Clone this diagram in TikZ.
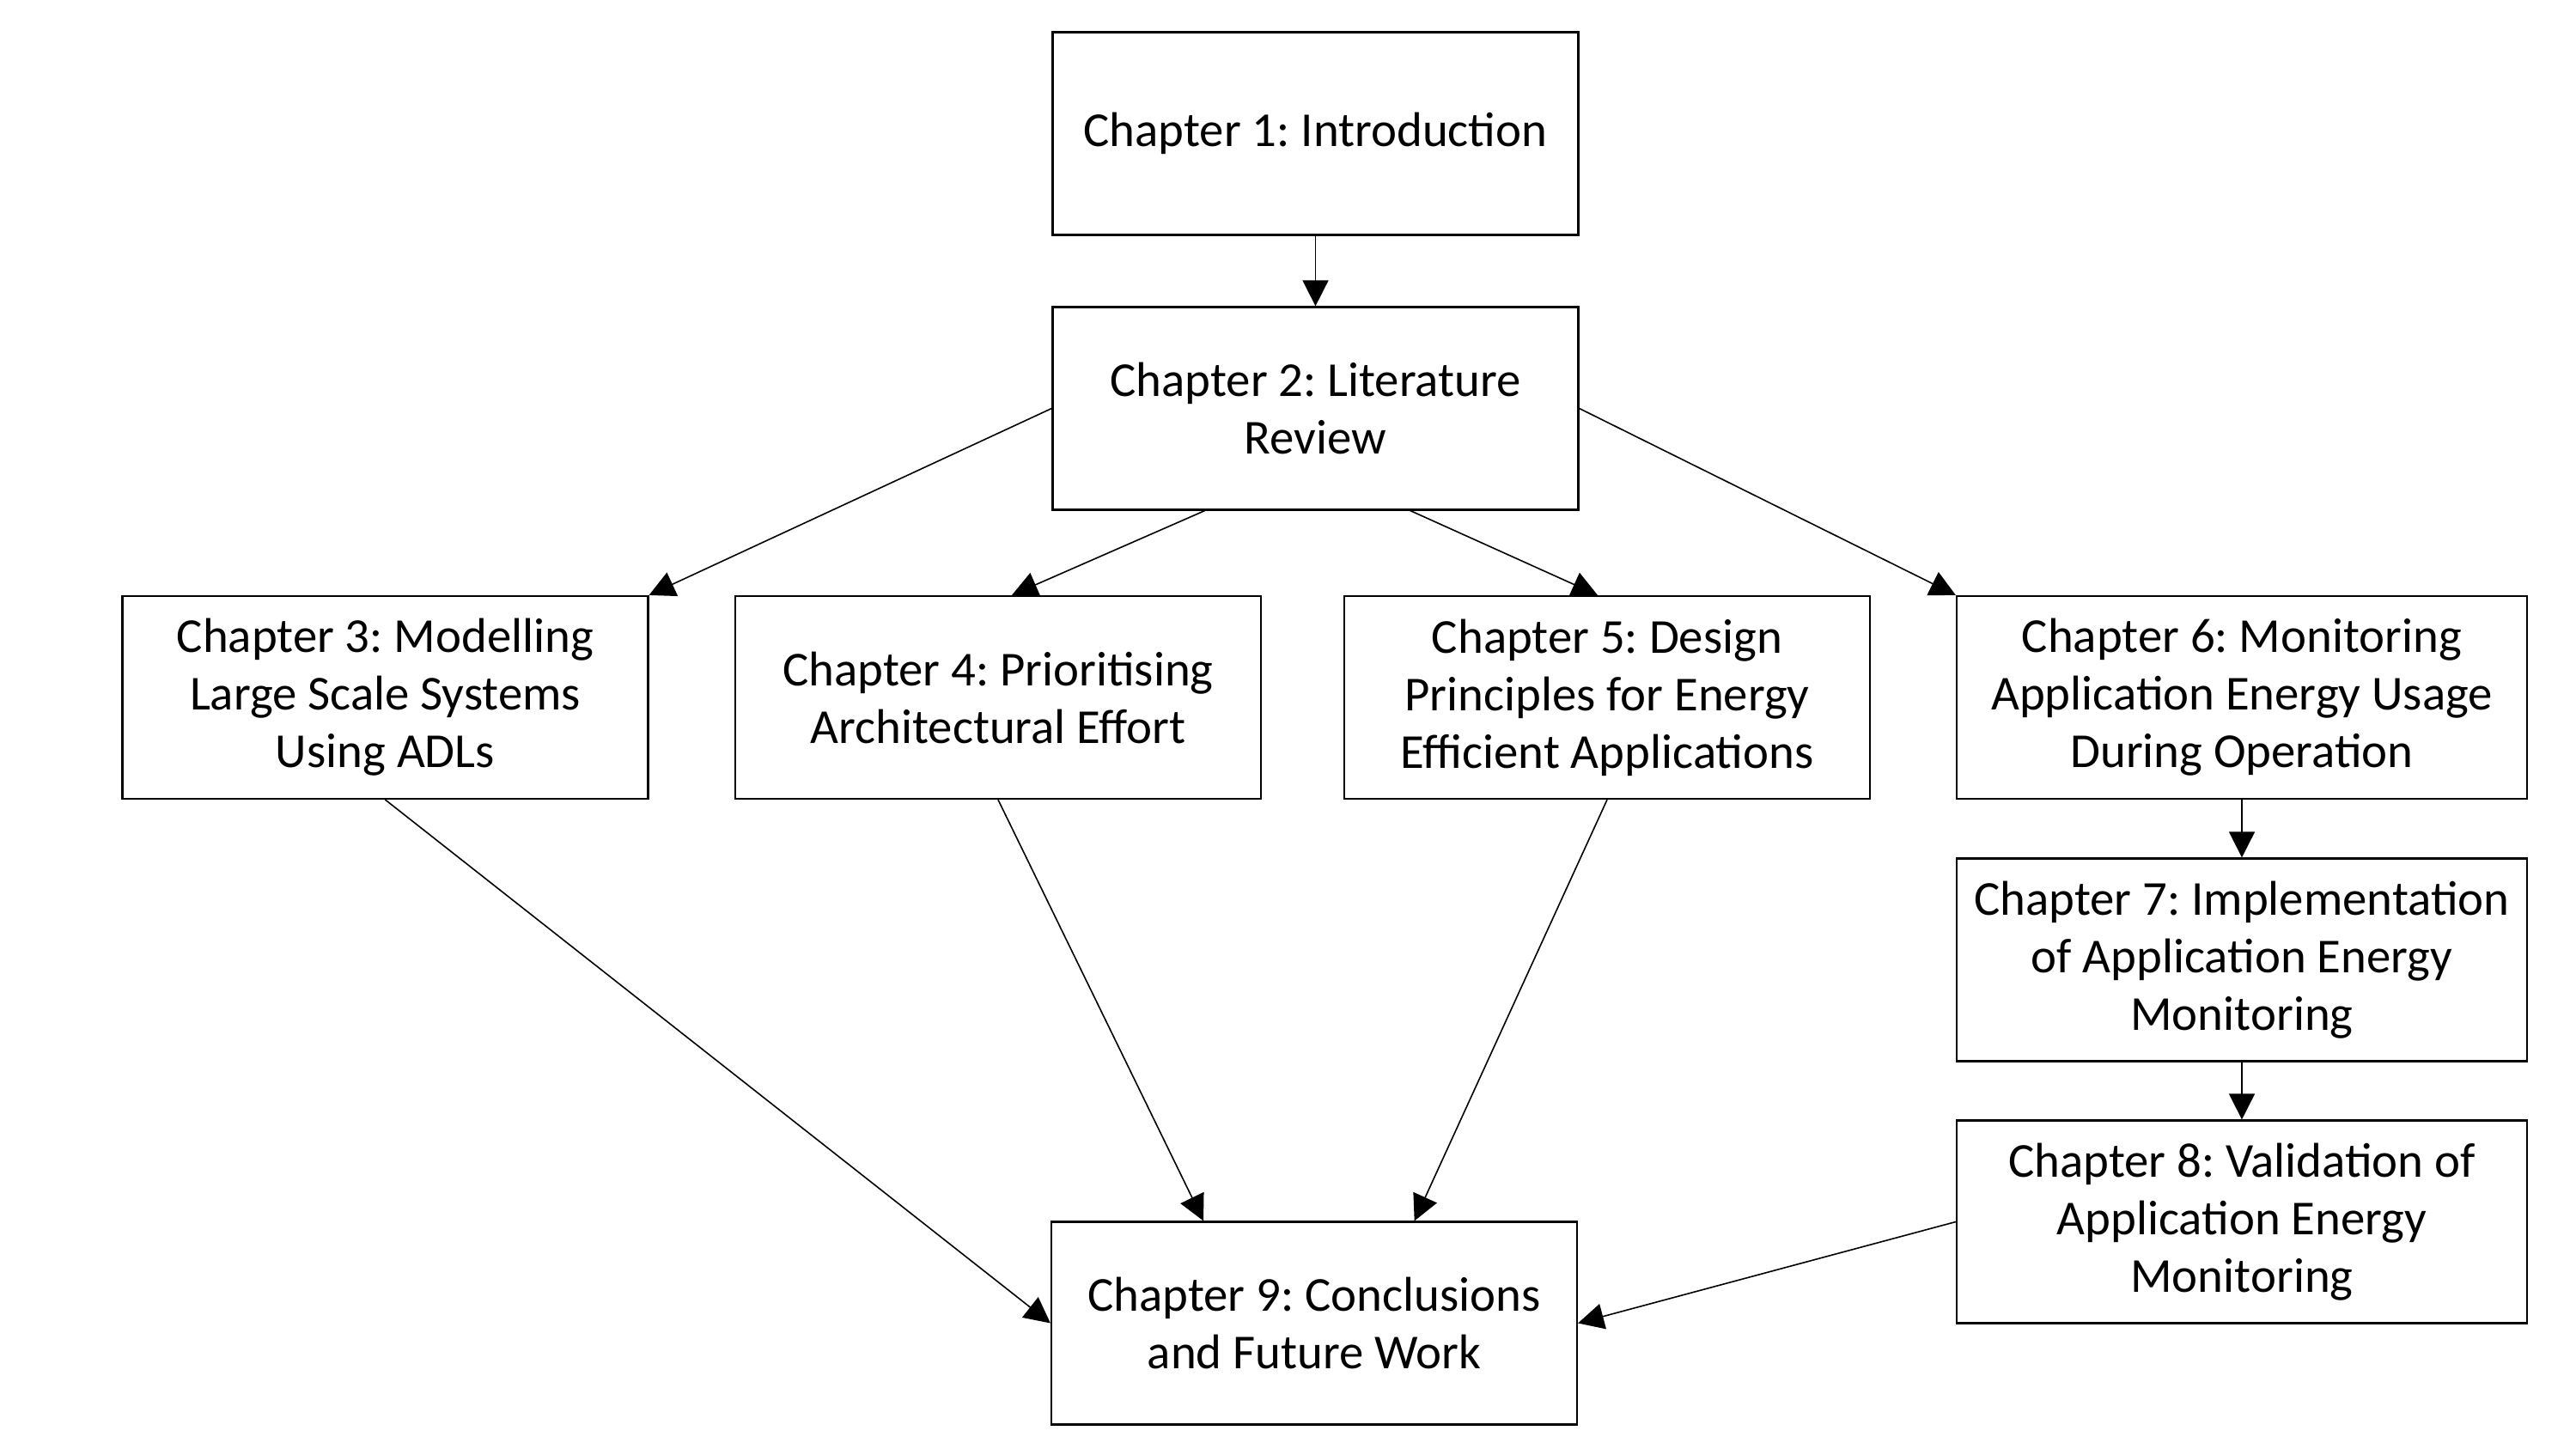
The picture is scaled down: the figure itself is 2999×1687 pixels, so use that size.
\documentclass[tikz,border=0pt]{standalone}
\usepackage{fontspec}
\setmainfont{Carlito}
\frenchspacing
\usetikzlibrary{arrows.meta,calc}
\begin{document}
\begin{tikzpicture}[x=0.25pt,y=-0.25pt,
  chbox/.style={draw=black,line width=0.55pt,fill=white,minimum width=153pt,minimum height=59pt,inner sep=0pt,align=center,font=\fontsize{14.2pt}{16.75pt}\selectfont\frenchspacing},
  widebox/.style={chbox,minimum width=166pt},
  conn/.style={draw=black,line width=0.4pt,-{Triangle[length=7.5pt,width=7.5pt]}}]
\useasboundingbox (0,0) rectangle (2999,1687);
\node[chbox] (b1) at (1531.5,155.5) {Chapter 1: Introduction};
\node[chbox] (b2) at (1531.5,475.5) {Chapter 2: Literature\\Review};
\node[chbox] (b3) at (448.5,812) {Chapter 3: Modelling\\Large Scale Systems\\Using ADLs};
\node[chbox] (b4) at (1162,812) {Chapter 4: Prioritising\\Architectural Effort};
\node[chbox] (b5) at (1871,812) {Chapter 5: Design\\Principles for Energy\\Efficient Applications};
\node[widebox] (b6) at (2610,812) {Chapter 6: Monitoring\\Application Energy Usage\\During Operation};
\node[widebox] (b7) at (2610,1117.5) {Chapter 7: Implementation\\of Application Energy\\Monitoring};
\node[widebox] (b8) at (2610,1422.5) {Chapter 8: Validation of\\Application Energy\\Monitoring};
\node[chbox] (b9) at (1530,1540.5) {Chapter 9: Conclusions\\and Future Work};
\draw[conn] (b1) -- (b2);
\draw[conn] (b2.west) -- (b3.north east);
\draw[conn] ($(b2.south west)!0.29!(b2.south east)$) -- ($(b4.north)+(16,0)$);
\draw[conn] ($(b2.south west)!0.68!(b2.south east)$) -- ($(b5.north)+(-11,0)$);
\draw[conn] (b2.east) -- (b6.north west);
\draw[conn] (b3.south) -- (b9.west);
\draw[conn] (b4.south) -- ($(b9.north west)!0.29!(b9.north east)$);
\draw[conn] (b5.south) -- ($(b9.north west)!0.69!(b9.north east)$);
\draw[conn] (b6) -- (b7);
\draw[conn] (b7) -- (b8);
\draw[conn] (b8.west) -- (b9.east);
\end{tikzpicture}
\end{document}
